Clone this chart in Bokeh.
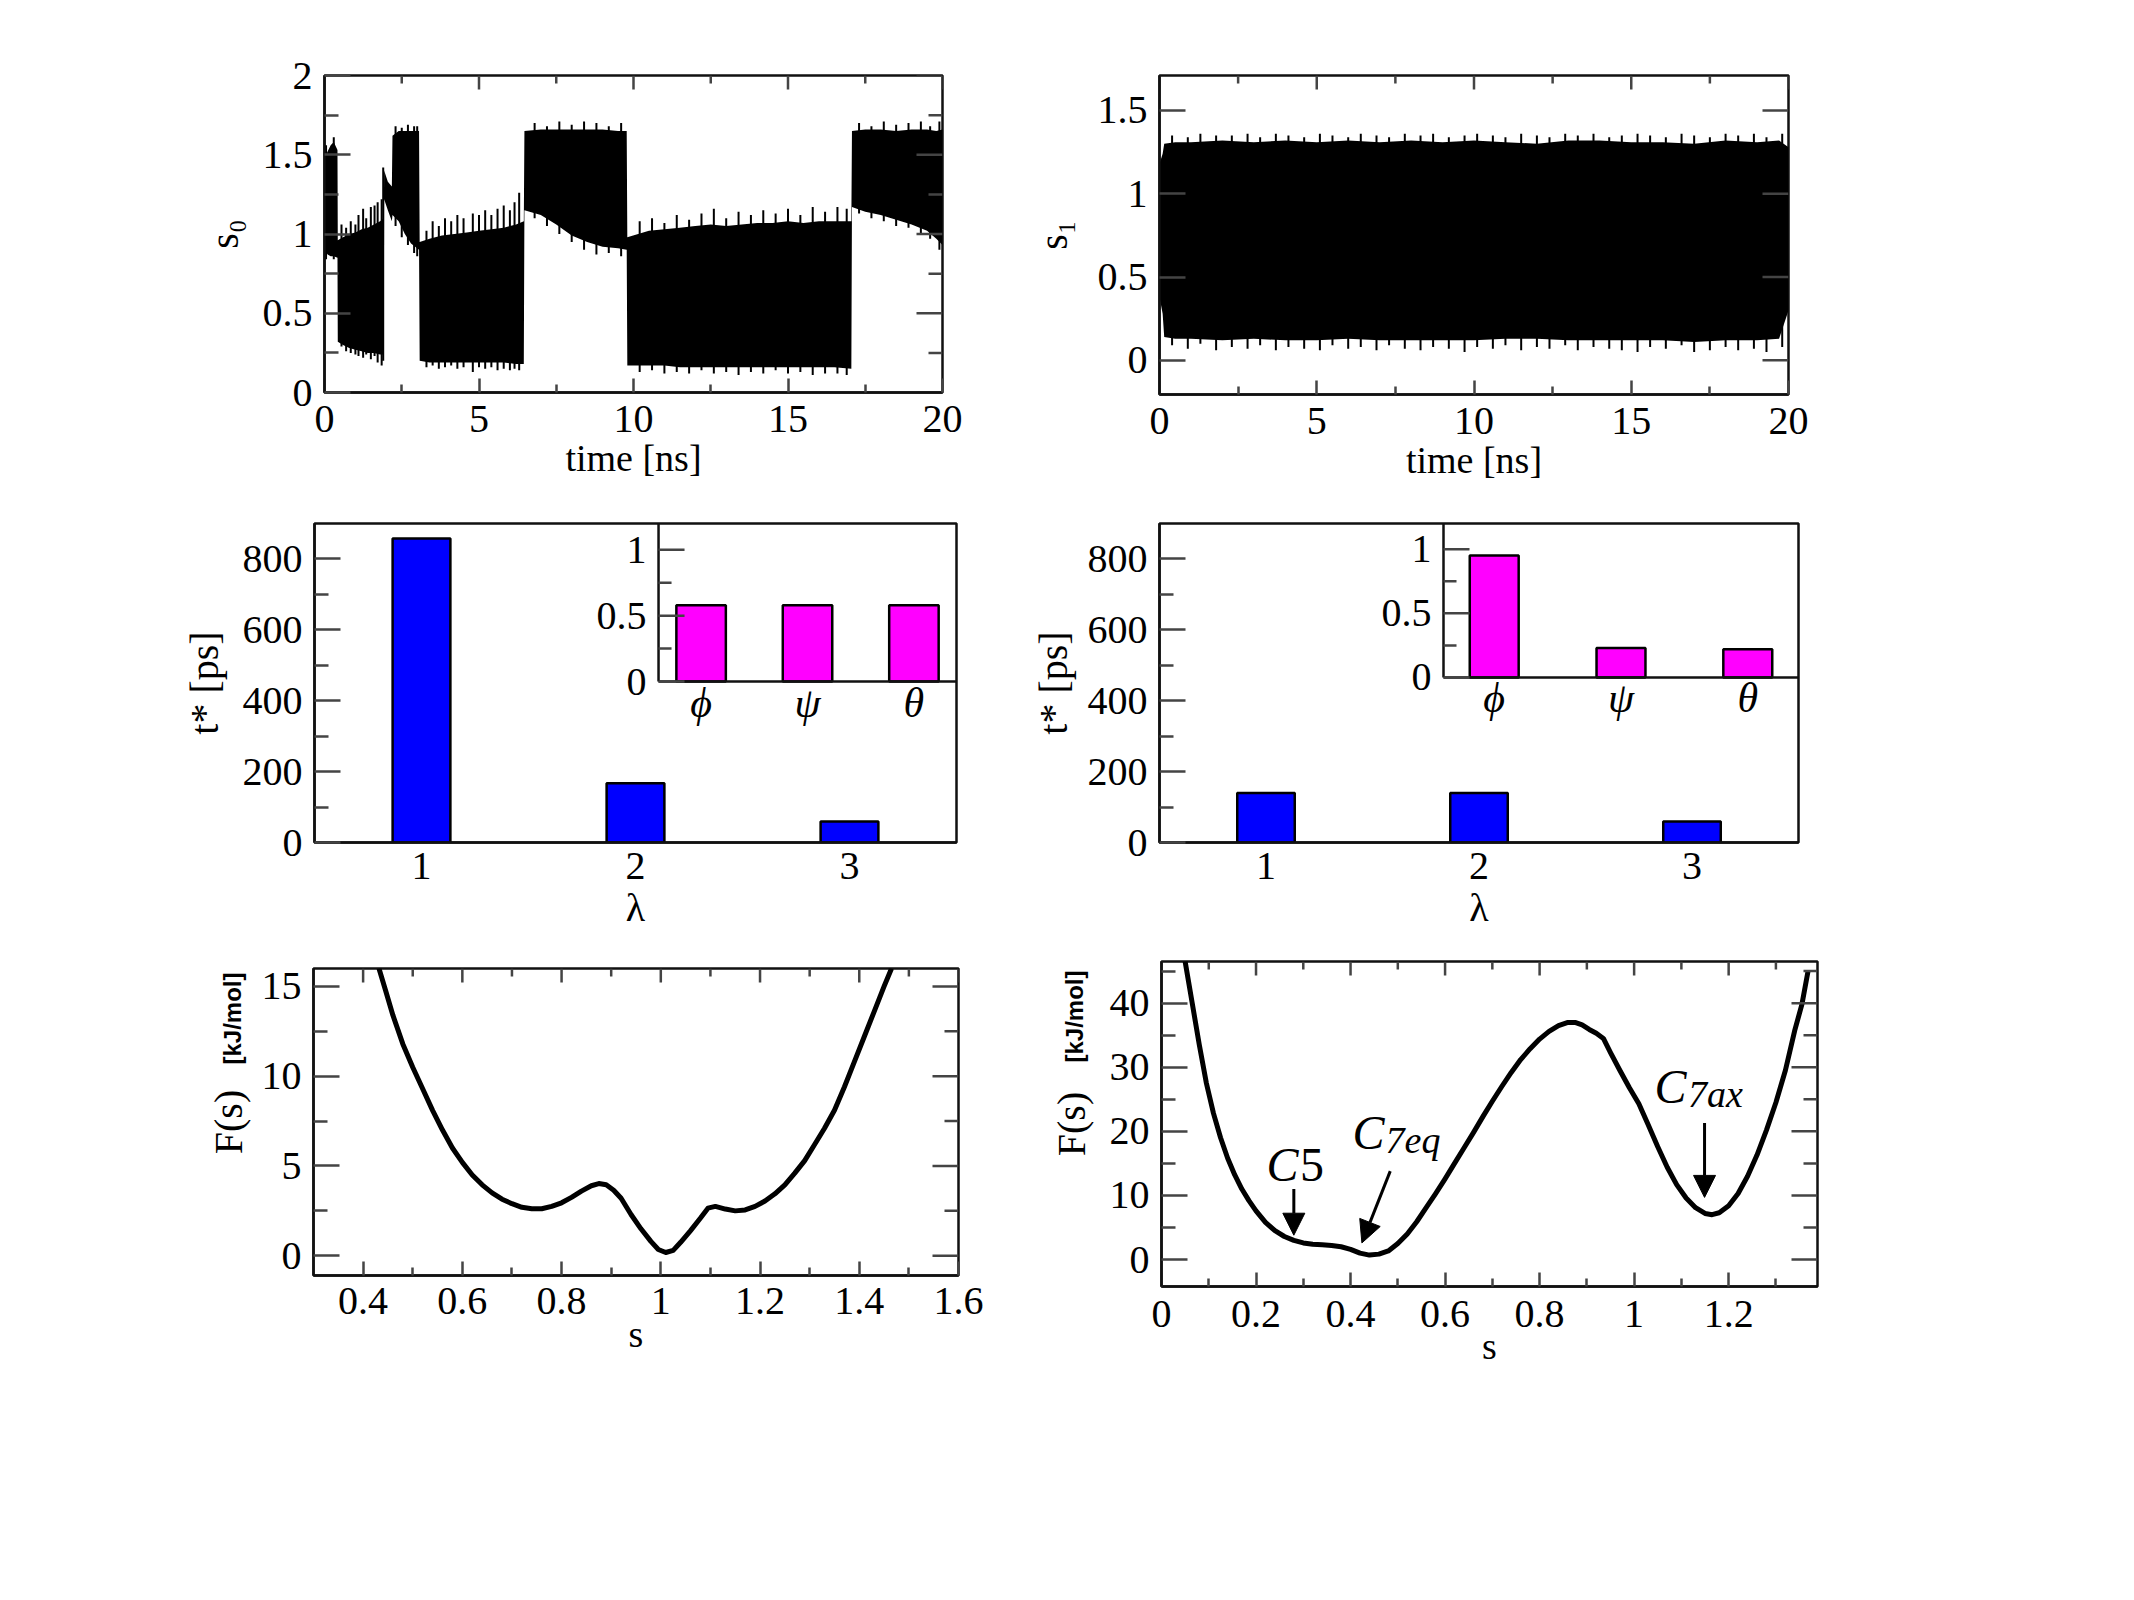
import numpy as np
from bokeh.plotting import figure
from bokeh.models import (Range1d, FixedTicker, Label, Arrow, NormalHead, CustomJSTickFormatter, Title)
from bokeh.layouts import row, column
from bokeh.core.properties import value
from bokeh.embed import file_html
from bokeh.resources import INLINE

SERIF = "Liberation Serif"

# ---------------- data ----------------
# s0 trajectory: dense core band (lower / upper edge)
s0_t = [0.0, 0.1, 0.2, 0.3, 0.42,
        0.43, 0.6, 0.8, 1.0, 1.2, 1.4, 1.6, 1.8, 1.92,
        1.93, 2.05, 2.18,
        2.2, 2.4, 2.6, 2.8, 3.06,
        3.08, 3.4, 3.8, 4.2, 4.6, 5.0, 5.4, 5.8, 6.2, 6.45,
        6.47, 7.0, 7.5, 8.0, 8.5, 9.0, 9.5, 9.78,
        9.8, 10.5, 11.0, 11.5, 12.0, 12.5, 13.0, 13.5, 14.0, 14.5, 15.0, 15.5, 16.0, 16.5, 17.05,
        17.07, 17.5, 18.0, 18.5, 19.0, 19.5, 19.8, 20.0]
s0_lo = [0.90, 0.87, 0.86, 0.86, 0.85,
         0.32, 0.30, 0.28, 0.27, 0.26, 0.25, 0.25, 0.24, 0.24,
         1.22, 1.15, 1.08,
         1.12, 1.08, 1.00, 0.94, 0.90,
         0.20, 0.19, 0.19, 0.19, 0.19, 0.19, 0.19, 0.19, 0.18, 0.18,
         1.15, 1.12, 1.06, 0.99, 0.95, 0.92, 0.91, 0.90,
         0.17, 0.17, 0.17, 0.16, 0.16, 0.16, 0.16, 0.16, 0.16, 0.16, 0.16, 0.16, 0.16, 0.16, 0.15,
         1.17, 1.14, 1.12, 1.09, 1.06, 1.02, 0.97, 0.93]
s0_hi = [1.48, 1.52, 1.56, 1.58, 1.53,
         0.96, 0.98, 1.00, 1.01, 1.03, 1.04, 1.06, 1.08, 1.10,
         1.40, 1.33, 1.30,
         1.62, 1.65, 1.65, 1.65, 1.65,
         0.95, 0.97, 0.99, 1.00, 1.01, 1.02, 1.03, 1.04, 1.06, 1.08,
         1.65, 1.66, 1.66, 1.66, 1.66, 1.66, 1.65, 1.65,
         0.98, 1.02, 1.03, 1.04, 1.05, 1.06, 1.05, 1.06, 1.07, 1.07, 1.08, 1.07, 1.08, 1.08, 1.08,
         1.65, 1.66, 1.66, 1.65, 1.66, 1.66, 1.65, 1.66]
# s0 excursions beyond the dense band (time, lowest, highest)
s0_spk_t = [0.05, 0.3,
            0.55, 0.7, 0.85, 1.0, 1.1, 1.25, 1.35, 1.5, 1.62, 1.72, 1.85, 1.9,
            2.3, 2.5, 2.7, 2.9, 3.0,
            3.3, 3.5, 3.7, 3.9, 4.1, 4.3, 4.5, 4.8, 5.0, 5.2, 5.4, 5.6, 5.8, 6.0, 6.15, 6.3,
            6.8, 7.2, 7.6, 8.0, 8.4, 8.8, 9.2, 9.6,
            10.2, 10.6, 11.0, 11.4, 11.8, 12.2, 12.6, 13.0, 13.4, 13.8, 14.2, 14.6, 15.0, 15.4,
            15.8, 16.2, 16.6, 16.9,
            17.3, 17.7, 18.1, 18.5, 18.9, 19.3, 19.6, 19.9]
s0_spk_lo = [0.84, 0.84,
             0.29, 0.26, 0.25, 0.24, 0.23, 0.22, 0.24, 0.21, 0.23, 0.19, 0.17, 0.20,
             1.05, 0.98, 0.93, 0.88, 0.86,
             0.16, 0.17, 0.15, 0.16, 0.17, 0.15, 0.16, 0.13, 0.16, 0.15, 0.16, 0.14, 0.15, 0.14, 0.15, 0.14,
             1.10, 1.05, 1.00, 0.95, 0.90, 0.87, 0.88, 0.86,
             0.13, 0.14, 0.12, 0.13, 0.12, 0.14, 0.12, 0.13, 0.11, 0.13, 0.12, 0.14, 0.12, 0.13,
             0.11, 0.12, 0.12, 0.11,
             1.13, 1.10, 1.08, 1.05, 1.04, 1.00, 0.97, 0.90]
s0_spk_hi = [1.56, 1.61,
             1.06, 1.04, 1.08, 1.06, 1.12, 1.16, 1.10, 1.17, 1.18, 1.20, 1.22, 1.42,
             1.68, 1.67, 1.69, 1.68, 1.68,
             1.02, 1.08, 1.05, 1.10, 1.08, 1.12, 1.10, 1.13, 1.12, 1.15, 1.12, 1.16, 1.18, 1.15, 1.20, 1.26,
             1.70, 1.68, 1.71, 1.69, 1.71, 1.70, 1.68, 1.70,
             1.08, 1.10, 1.07, 1.12, 1.09, 1.13, 1.16, 1.10, 1.14, 1.12, 1.15, 1.13, 1.16, 1.12,
             1.17, 1.14, 1.17, 1.16,
             1.70, 1.68, 1.71, 1.69, 1.70, 1.71, 1.68, 1.71]

# s1 trajectory: dense band and excursions
s1_t = [0.0, 0.1, 0.15, 0.5, 1, 2, 3, 4, 5, 6, 7, 8, 9, 10, 11, 12, 13, 14, 15, 16, 17, 18, 19, 19.7, 20.0]
s1_lo = [0.38, 0.28, 0.14, 0.13, 0.13, 0.12, 0.13, 0.12, 0.12, 0.13, 0.12, 0.12, 0.12, 0.12,
         0.13, 0.13, 0.12, 0.12, 0.12, 0.12, 0.11, 0.12, 0.12, 0.13, 0.30]
s1_hi = [1.18, 1.24, 1.30, 1.31, 1.31, 1.32, 1.31, 1.32, 1.31, 1.32, 1.31, 1.32, 1.31, 1.32,
         1.31, 1.30, 1.32, 1.32, 1.31, 1.31, 1.30, 1.32, 1.31, 1.32, 1.28]
s1_spk_t = [0.4, 0.9, 1.3, 1.8, 2.3, 2.8, 3.2, 3.7, 4.1, 4.6, 5.1, 5.5, 6.0, 6.4, 6.9, 7.3, 7.8,
            8.3, 8.7, 9.2, 9.7, 10.1, 10.6, 11.0, 11.5, 12.0, 12.4, 12.9, 13.3, 13.8, 14.3,
            14.7, 15.2, 15.6, 16.1, 16.6, 17.0, 17.5, 18.0, 18.4, 18.9, 19.3, 19.8]
s1_spk_lo = [0.09, 0.07, 0.10, 0.06, 0.08, 0.07, 0.09, 0.06, 0.08, 0.07, 0.06, 0.09, 0.07, 0.08,
             0.06, 0.09, 0.07, 0.06, 0.08, 0.07, 0.05, 0.08, 0.07, 0.09, 0.06, 0.08, 0.07, 0.09,
             0.06, 0.08, 0.07, 0.06, 0.05, 0.08, 0.07, 0.09, 0.05, 0.06, 0.08, 0.06, 0.07, 0.05, 0.08]
s1_spk_hi = [1.35, 1.34, 1.36, 1.35, 1.35, 1.36, 1.34, 1.36, 1.35, 1.34, 1.36, 1.35, 1.34, 1.36,
             1.35, 1.34, 1.36, 1.35, 1.36, 1.34, 1.35, 1.36, 1.35, 1.34, 1.36, 1.35, 1.34, 1.36,
             1.35, 1.36, 1.34, 1.35, 1.36, 1.35, 1.34, 1.36, 1.35, 1.34, 1.36, 1.35, 1.36, 1.34, 1.36]

# t* bars
lam = [1, 2, 3]
tstar_left = [858, 167, 59]
tstar_right = [140, 140, 59]
inset_cats = ["\u03d5", "\u03c8", "\u03b8"]
inset_left = [0.58, 0.58, 0.58]
inset_right = [0.95, 0.23, 0.22]

# free-energy profiles
f1_s = [0.432, 0.445, 0.46, 0.48, 0.50, 0.52, 0.54, 0.56, 0.58, 0.60, 0.62, 0.64, 0.66, 0.68,
        0.70, 0.72, 0.74, 0.76, 0.78, 0.80, 0.82, 0.84, 0.86, 0.875, 0.89, 0.905, 0.92, 0.94,
        0.96, 0.98, 0.995, 1.01, 1.025, 1.04, 1.06, 1.08, 1.095, 1.11, 1.13, 1.15, 1.17, 1.19,
        1.21, 1.23, 1.25, 1.27, 1.29, 1.31, 1.33, 1.35, 1.37, 1.39, 1.41, 1.43, 1.45, 1.465]
f1_F = [16.0, 14.8, 13.4, 11.8, 10.5, 9.3, 8.1, 7.0, 6.0, 5.2, 4.5, 3.95, 3.5, 3.15,
        2.9, 2.7, 2.62, 2.62, 2.75, 2.95, 3.25, 3.6, 3.9, 4.02, 3.95, 3.65, 3.2, 2.3,
        1.5, 0.8, 0.35, 0.18, 0.3, 0.75, 1.4, 2.1, 2.65, 2.75, 2.6, 2.5, 2.55, 2.75,
        3.05, 3.45, 3.95, 4.6, 5.3, 6.2, 7.1, 8.1, 9.4, 10.8, 12.2, 13.6, 15.0, 16.0]

f2_s = [0.050, 0.065, 0.08, 0.095, 0.11, 0.125, 0.14, 0.155, 0.17, 0.185, 0.20, 0.22, 0.24,
        0.26, 0.28, 0.30, 0.32, 0.34, 0.36, 0.38, 0.40, 0.42, 0.44, 0.46, 0.48, 0.50, 0.52,
        0.54, 0.56, 0.58, 0.60, 0.62, 0.64, 0.66, 0.68, 0.70, 0.72, 0.74, 0.76, 0.78, 0.80,
        0.82, 0.84, 0.86, 0.875, 0.89, 0.905, 0.92, 0.935, 0.95, 0.97, 0.99, 1.01, 1.03,
        1.05, 1.07, 1.09, 1.11, 1.13, 1.15, 1.165, 1.18, 1.20, 1.22, 1.24, 1.26, 1.28, 1.30,
        1.32, 1.34, 1.355, 1.368]
f2_F = [46.5, 40.0, 33.5, 27.5, 22.8, 19.0, 15.8, 13.2, 11.0, 9.2, 7.6, 5.8, 4.5,
        3.6, 3.0, 2.6, 2.4, 2.3, 2.2, 2.0, 1.6, 1.0, 0.7, 0.85, 1.35, 2.5, 4.0,
        5.9, 8.1, 10.3, 12.6, 15.0, 17.4, 19.8, 22.3, 24.7, 27.0, 29.2, 31.2, 32.9, 34.4,
        35.6, 36.5, 37.0, 37.0, 36.6, 35.9, 35.3, 34.5, 32.3, 29.5, 26.8, 24.3, 21.0,
        17.6, 14.4, 11.7, 9.6, 8.1, 7.2, 7.0, 7.3, 8.4, 10.3, 13.0, 16.3, 20.2, 24.5,
        29.5, 35.8, 39.8, 45.0]

# annotations: arrow start/end (s, F)
ann_arrows = [(0.28, 11.0, 0.28, 3.8), (0.484, 13.8, 0.424, 2.6), (1.149, 21.3, 1.149, 9.7)]

fmt = CustomJSTickFormatter(code="return tick.toString()")
TICK = "#444444"
TICKFONT = "40px"


def make_fig(w, h, xr, yr, bl, br, bt, bb):
    p = figure(width=w, height=h, x_range=Range1d(*xr), y_range=Range1d(*yr),
               output_backend="svg", toolbar_location=None, title=None,
               min_border_left=bl, min_border_right=br, min_border_top=bt, min_border_bottom=bb)
    p.xgrid.visible = False
    p.ygrid.visible = False
    p.outline_line_color = "#111111"
    p.outline_line_width = 2.5
    p.outline_line_alpha = 1
    p.background_fill_color = "white"
    p.border_fill_color = "white"
    return p


def style_axis(ax, ticks, minor, maj_len, min_len, standoff=10):
    ax.ticker = FixedTicker(ticks=ticks, minor_ticks=minor)
    ax.formatter = fmt
    ax.major_tick_in = maj_len
    ax.major_tick_out = 0
    ax.minor_tick_in = min_len
    ax.minor_tick_out = 0
    ax.major_tick_line_width = 2.5
    ax.minor_tick_line_width = 2.5
    ax.major_tick_line_color = TICK
    ax.minor_tick_line_color = TICK
    ax.axis_line_width = 2.5
    ax.axis_line_color = "#111111"
    ax.major_label_text_font = SERIF
    ax.major_label_text_color = "black"
    ax.major_label_standoff = standoff
    ax.major_label_text_font_size = TICKFONT
    ax.axis_label_text_font = SERIF
    ax.axis_label_text_font_style = "normal"
    ax.axis_label_text_font_size = "40px"
    ax.axis_label_text_color = "black"


def mirror(p, xt, xm, yt, ym, xl=14, xs=8, yl=26, ys=14):
    """Inward ticks on the right and top edges of the frame."""
    xe = p.x_range.end
    ye = p.y_range.end
    p.ray(x=[xe] * len(yt), y=yt, length=yl, length_units="screen", angle=np.pi,
          line_color=TICK, line_width=2.5)
    if ym:
        p.ray(x=[xe] * len(ym), y=ym, length=ys, length_units="screen", angle=np.pi,
              line_color=TICK, line_width=2.5)
    p.ray(x=xt, y=[ye] * len(xt), length=xl, length_units="screen", angle=-np.pi / 2,
          line_color=TICK, line_width=2.5)
    if xm:
        p.ray(x=xm, y=[ye] * len(xm), length=xs, length_units="screen", angle=-np.pi / 2,
              line_color=TICK, line_width=2.5)


def unit_title(p, offset, standoff):
    p.add_layout(Title(text="[kJ/mol]", align="right", vertical_align="bottom",
                       offset=offset, standoff=standoff, text_font="Liberation Sans",
                       text_font_style="bold", text_font_size="24px", text_color="black"),
                 "left")


# ---------------- panel 1 : s0 ----------------
p1 = make_fig(1000, 500, (0, 20), (0, 2), 324, 58, 75, 108)
p1.varea(x=s0_t, y1=s0_lo, y2=s0_hi, fill_color="black")
p1.segment(x0=s0_spk_t, y0=s0_spk_lo, x1=s0_spk_t, y1=s0_spk_hi, line_color="black", line_width=2)
xt1, xm1 = [0, 5, 10, 15, 20], [2.5, 7.5, 12.5, 17.5]
style_axis(p1.xaxis[0], xt1, xm1, 14, 8, standoff=13)
style_axis(p1.yaxis[0], [0, 0.5, 1, 1.5, 2], [0.25, 0.75, 1.25, 1.75], 26, 14, standoff=12)
p1.xaxis[0].axis_label = "time [ns]"
p1.xaxis[0].axis_label_standoff = 2
p1.xaxis[0].axis_label_text_font_size = "38px"
p1.yaxis[0].axis_label = "s\u2080"
p1.yaxis[0].axis_label_standoff = 13
mirror(p1, xt1, xm1, [0, 0.5, 1, 1.5, 2], [0.25, 0.75, 1.25, 1.75])

# ---------------- panel 2 : s1 ----------------
p2 = make_fig(1134, 500, (0, 20), (-0.205, 1.71), 159, 346, 75, 106)
p2.varea(x=s1_t, y1=s1_lo, y2=s1_hi, fill_color="black")
p2.segment(x0=s1_spk_t, y0=s1_spk_lo, x1=s1_spk_t, y1=s1_spk_hi, line_color="black", line_width=2)
style_axis(p2.xaxis[0], xt1, xm1, 14, 8, standoff=13)
style_axis(p2.yaxis[0], [0, 0.5, 1, 1.5], [], 26, 14, standoff=12)
p2.xaxis[0].axis_label = "time [ns]"
p2.xaxis[0].axis_label_standoff = 2
p2.xaxis[0].axis_label_text_font_size = "38px"
p2.yaxis[0].axis_label = "s\u2081"
p2.yaxis[0].axis_label_standoff = 19
mirror(p2, xt1, xm1, [0, 0.5, 1, 1.5], [])


# ---------------- panels 3/4 : bars with inset ----------------
def bar_panel(w, bl, br, tops, ins_vals, ins_xr, ins_yr, ins_w, ylab_standoff):
    p = make_fig(w, 440, (0.5, 3.5), (0, 900), bl, br, 23, 98)
    p.vbar(x=lam, top=tops, width=0.27, fill_color="#0000FF", line_color="black", line_width=2.5)
    style_axis(p.xaxis[0], lam, [], 0, 0, standoff=10)
    style_axis(p.yaxis[0], [0, 200, 400, 600, 800], [100, 300, 500, 700], 26, 14, standoff=12)
    p.xaxis[0].axis_label = "\u03bb"
    p.xaxis[0].axis_label_standoff = 3
    p.yaxis[0].axis_label = "t* [ps]"
    p.yaxis[0].axis_label_standoff = ylab_standoff
    # inset drawn on its own scales
    p.extra_x_ranges = {"ix": Range1d(*ins_xr)}
    p.extra_y_ranges = {"iy": Range1d(*ins_yr)}
    kw = dict(x_range_name="ix", y_range_name="iy")
    p.vbar(x=lam, top=ins_vals, width=ins_w, fill_color="#FF00FF", line_color="black",
           line_width=2.5, **kw)
    x0, x1 = 0.6, ins_xr[1]
    p.segment(x0=[x0, x0], y0=[0, 0], x1=[x0, x1], y1=[1.2, 0], line_color="#111111",
              line_width=2.5, **kw)
    p.ray(x=[x0] * 3, y=[0, 0.5, 1], length=26, length_units="screen", angle=0,
          line_color=TICK, line_width=2.5, **kw)
    p.ray(x=[x0] * 2, y=[0.25, 0.75], length=13, length_units="screen", angle=0,
          line_color=TICK, line_width=2.5, **kw)
    p.text(x=[x0] * 3, y=[0, 0.5, 1], text=["0", "0.5", "1"], x_offset=-12,
           text_align="right", text_baseline="middle", text_font=value(SERIF),
           text_font_size=TICKFONT, text_color="black", **kw)
    p.text(x=lam, y=[0, 0, 0], text=inset_cats, y_offset=-2, text_align="center",
           text_baseline="top", text_font=value(SERIF), text_font_style="italic",
           text_font_size="42px", text_color="black", **kw)
    return p


p3 = bar_panel(1000, 314, 44, tstar_left, inset_left, (-2.633, 3.4), (-1.222, 1.2), 0.465, 13)
p4 = bar_panel(1134, 159, 336, tstar_right, inset_right, (-1.640, 3.4), (-1.286, 1.2), 0.386, 9)


# ---------------- panel 5 : F(s) ----------------
p5 = make_fig(1000, 660, (0.3, 1.6), (-1.1, 16), 313, 42, 28, 325)
p5.line(x=f1_s, y=f1_F, line_color="black", line_width=5, line_join="round")
xt5 = [0.4, 0.6, 0.8, 1, 1.2, 1.4, 1.6]
xm5 = [0.5, 0.7, 0.9, 1.1, 1.3, 1.5]
style_axis(p5.xaxis[0], xt5, xm5, 14, 8, standoff=12)
style_axis(p5.yaxis[0], [0, 5, 10, 15], [2.5, 7.5, 12.5], 26, 14, standoff=12)
p5.xaxis[0].axis_label = "s"
p5.xaxis[0].axis_label_standoff = -4
p5.xaxis[0].axis_label_text_font_size = "38px"
p5.yaxis[0].axis_label = "F(s)"
p5.yaxis[0].axis_label_standoff = 8
mirror(p5, xt5, xm5, [0, 5, 10, 15], [2.5, 7.5, 12.5])
unit_title(p5, 4, -86)

# ---------------- panel 6 : F(s) with basins ----------------
p6 = make_fig(1134, 660, (0, 1.388), (-4.2, 46.5), 161, 317, 21, 314)
p6.line(x=f2_s, y=f2_F, line_color="black", line_width=5, line_join="round")
xt6 = [0, 0.2, 0.4, 0.6, 0.8, 1, 1.2]
xm6 = [0.1, 0.3, 0.5, 0.7, 0.9, 1.1, 1.3]
style_axis(p6.xaxis[0], xt6, xm6, 14, 8, standoff=14)
style_axis(p6.yaxis[0], [0, 10, 20, 30, 40], [5, 15, 25, 35, 45], 26, 14, standoff=12)
p6.xaxis[0].axis_label = "s"
p6.xaxis[0].axis_label_standoff = -5
p6.xaxis[0].axis_label_text_font_size = "38px"
p6.yaxis[0].axis_label = "F(s)"
p6.yaxis[0].axis_label_standoff = 13
mirror(p6, xt6, xm6, [0, 10, 20, 30, 40], [5, 15, 25, 35, 45])
unit_title(p6, 9, -84)

for xs, ys, xe, ye in ann_arrows:
    p6.add_layout(Arrow(end=NormalHead(size=22, fill_color="black", line_color="black"),
                        x_start=xs, y_start=ys, x_end=xe, y_end=ye,
                        line_color="black", line_width=3))


def ann(p, x, y, text, size, style="italic"):
    p.add_layout(Label(x=x, y=y, text=text, text_font=SERIF, text_font_style=style,
                       text_font_size=size, text_color="black", text_baseline="alphabetic"))


ann(p6, 0.222, 14.8, "C", "48px")
ann(p6, 0.293, 14.8, "5", "48px", "normal")
ann(p6, 0.404, 19.8, "C", "48px")
ann(p6, 0.474, 18.6, "7eq", "38px")
ann(p6, 1.043, 27.0, "C", "48px")
ann(p6, 1.114, 25.8, "7ax", "38px")

layout = column(row(column(p1), column(p2)), row(column(p3), column(p4)),
                row(column(p5), column(p6)))
open("out.html", "w").write(file_html(layout, INLINE))
